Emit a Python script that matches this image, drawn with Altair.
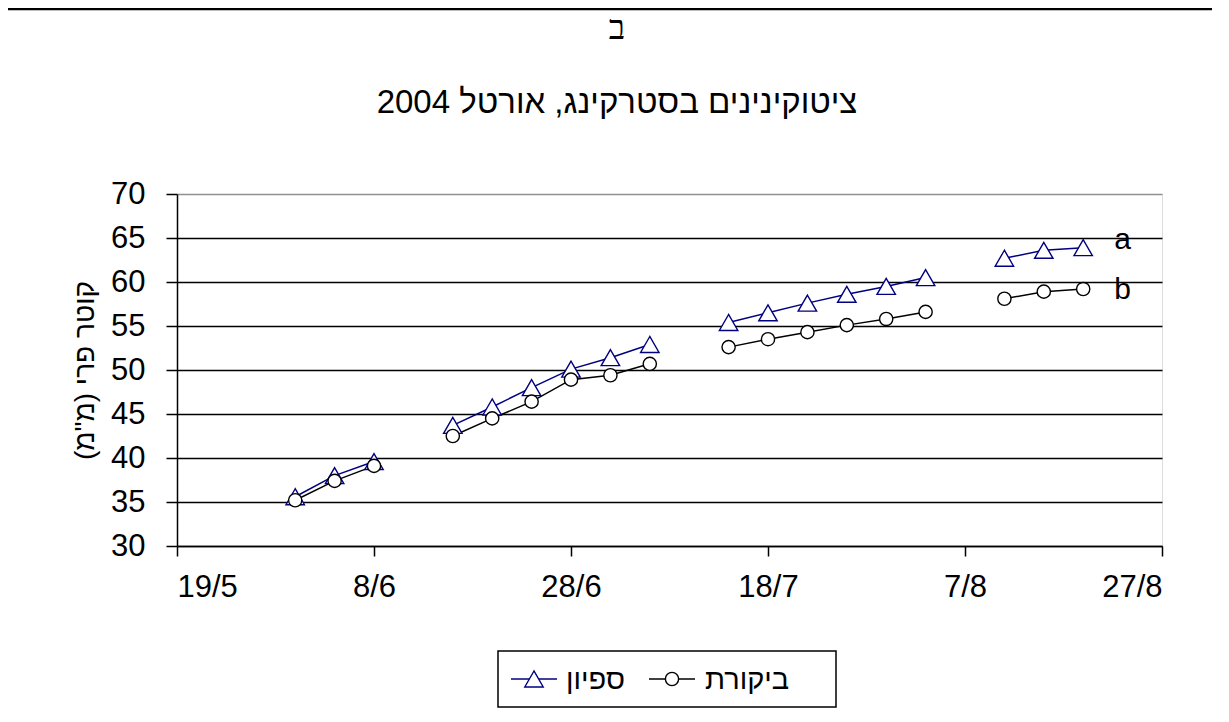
import altair as alt
import pandas as pd

# ---- data ----
dates = ["2004-05-31", "2004-06-04", "2004-06-08",
         "2004-06-16", "2004-06-20", "2004-06-24", "2004-06-28", "2004-07-02", "2004-07-06",
         "2004-07-14", "2004-07-18", "2004-07-22", "2004-07-26", "2004-07-30", "2004-08-03",
         "2004-08-11", "2004-08-15", "2004-08-19"]
segments = [1, 1, 1, 2, 2, 2, 2, 2, 2, 3, 3, 3, 3, 3, 3, 4, 4, 4]
spiyon = [35.6, 38.0, 39.6, 43.7, 45.8, 48.0, 50.1, 51.4, 52.9,
          55.4, 56.5, 57.6, 58.6, 59.5, 60.5, 62.7, 63.6, 63.9]
bikoret = [35.2, 37.4, 39.1, 42.5, 44.5, 46.4, 48.9, 49.4, 50.7,
           52.6, 53.5, 54.3, 55.1, 55.8, 56.6, 58.1, 58.9, 59.2]
series_names = ["ספיון", "ביקורת"]
series_colors = ["#000080", "#000000"]
series_shapes = ["triangle-up", "circle"]

letters = ["a", "b"]
letter_dates = ["2004-08-23", "2004-08-23"]
letter_y = [63.8, 58.1]

tick_dates = [(2004, 5, 19), (2004, 6, 8), (2004, 6, 28), (2004, 7, 18), (2004, 8, 7), (2004, 8, 27)]
y_ticks = [30, 35, 40, 45, 50, 55, 60, 65, 70]

title_top = "ב"
title_main = "ציטוקינינים בסטרקינג, אורטל 2004"
y_title = "קוטר פרי (מ\"מ)\u200F"

# ---- tables ----
rows = []
for d, s, a, b in zip(dates, segments, spiyon, bikoret):
    rows.append({"date": d, "seg": s, "series": series_names[0], "value": a})
    rows.append({"date": d, "seg": s, "series": series_names[1], "value": b})
df = pd.DataFrame(rows)
lab = pd.DataFrame({"date": letter_dates, "value": letter_y, "txt": letters})

FONT = "Liberation Sans"
W, H = 985, 352
PL, PT = 169, 186          # plot origin inside the svg
OX, OY = PL + 8, PT + 8    # plot origin on the page

def dt(t):
    return alt.DateTime(year=t[0], month=t[1], date=t[2], utc=True)

x_enc = alt.X("date:T",
              scale=alt.Scale(type="utc", domain=[dt(tick_dates[0]), dt(tick_dates[-1])]),
              axis=alt.Axis(values=[dt(t) for t in tick_dates],
                            labelExpr="utcFormat(datum.value, '%-d/%-m')",
                            title=None, grid=False, labelFont=FONT, labelFontSize=31,
                            labelColor="black", domainColor="black", domainWidth=1.5,
                            tickColor="black", tickWidth=1.5, tickSize=10, labelPadding=16))
y_enc = alt.Y("value:Q",
              scale=alt.Scale(domain=[30, 70], nice=False, zero=False),
              axis=alt.Axis(values=y_ticks, title=y_title, titleFont=FONT, titleFontSize=28,
                            titleFontWeight="normal", titleColor="black",
                            titleAngle=-90, titleX=-92, titleY=H / 2, titleAlign="center",
                            titleBaseline="middle",
                            labelFont=FONT, labelFontSize=31, labelColor="black",
                            domainColor="black", domainWidth=1.5, tickColor="black",
                            tickWidth=1.5, tickSize=11, labelPadding=21,
                            grid=True, gridWidth=1.5,
                            gridColor=alt.ConditionalAxisColor(
                                condition={"test": "datum.value === 70", "value": "#909090"},
                                value="black")))
color_scale = alt.Scale(domain=series_names, range=series_colors)
color_enc = alt.Color("series:N", scale=color_scale, legend=None)

base = alt.Chart(df)
lines = base.mark_line(strokeWidth=1.5).encode(
    x=x_enc, y=y_enc, color=color_enc, detail="seg:N")
sizes = {"triangle-up": 340, "circle": 175}
point_layers = [
    base.transform_filter(alt.datum.series == name).mark_point(
        shape=shp, size=sizes[shp], fill="white", fillOpacity=1, strokeWidth=1.4, opacity=1
    ).encode(x=x_enc, y=y_enc, color=color_enc)
    for name, shp in zip(series_names, series_shapes)
]

letters_layer = alt.Chart(lab).mark_text(font=FONT, fontSize=30, color="black",
                                         align="center", baseline="alphabetic").encode(
    x=x_enc, y=y_enc, text="txt:N")

# ---- legend (boxed, line + marker + label, laid out like the original) ----
leg_box = (498, 651, 836, 707)          # page pixels
leg_cy = (leg_box[1] + leg_box[3]) / 2
sym_centers = [534, 672]                 # page x of marker centres
label_left = [566, 705]                  # page x where labels start
legdf = pd.DataFrame({
    "series": series_names,
    "x1": [c - 23 - OX for c in sym_centers],
    "x2": [c + 23 - OX for c in sym_centers],
    "xc": [c - OX for c in sym_centers],
    "xl": [c - OX for c in label_left],
})
legend_bg = alt.Chart(legdf).transform_filter("datum.series == '%s'" % series_names[0]).mark_rect(
    fill="white", stroke="black", strokeWidth=1.5).encode(
    x=alt.value(leg_box[0] - OX), x2=alt.value(leg_box[2] - OX),
    y=alt.value(leg_box[1] - OY), y2=alt.value(leg_box[3] - OY))
legend_lines = alt.Chart(legdf).mark_rule(strokeWidth=1.4).encode(
    x=alt.X("x1:Q", scale=None), x2="x2:Q", y=alt.value(leg_cy - OY), color=color_enc)
legend_pts = [
    alt.Chart(legdf).transform_filter(alt.datum.series == name).mark_point(
        shape=shp, size=sizes[shp], fill="white", fillOpacity=1, strokeWidth=1.4, opacity=1
    ).encode(x=alt.X("xc:Q", scale=None), y=alt.value(leg_cy - OY), color=color_enc)
    for name, shp in zip(series_names, series_shapes)
]
legend_text = alt.Chart(legdf).mark_text(font=FONT, fontSize=29, color="black", align="left",
                                         baseline="middle").encode(
    x=alt.X("xl:Q", scale=None), y=alt.value(leg_cy - OY + 1), text="series:N")

# ---- titles ----
titles = pd.DataFrame({"t": [title_top], "m": [title_main]})
CX = 617 - OX
t_top = alt.Chart(titles).mark_text(font="Liberation Serif", fontSize=34, color="black",
                                    align="center", baseline="middle").encode(
    x=alt.value(CX), y=alt.value(29 - OY), text="t:N")
t_main = alt.Chart(titles).mark_text(font=FONT, fontSize=33, color="black",
                                     align="center", baseline="middle").encode(
    x=alt.value(CX), y=alt.value(103 - OY), text="m:N")

# outer frame line at the top of the picture
frame_top = alt.Chart(titles).mark_rule(color="black", strokeWidth=2.5).encode(
    x=alt.value(-PL), x2=alt.value(W + 60), y=alt.value(1 - PT))

chart = alt.layer(frame_top, t_top, t_main, lines, *point_layers, letters_layer,
                  legend_bg, legend_lines, *legend_pts, legend_text).properties(
    width=W, height=H,
    autosize=alt.AutoSizeParams(type="none"),
    padding={"left": PL, "top": PT, "right": 50, "bottom": 165},
).configure_view(stroke="#909090", strokeWidth=1).configure(background="white")

chart.save("out.html", embed_options={"renderer": "svg", "actions": False})
